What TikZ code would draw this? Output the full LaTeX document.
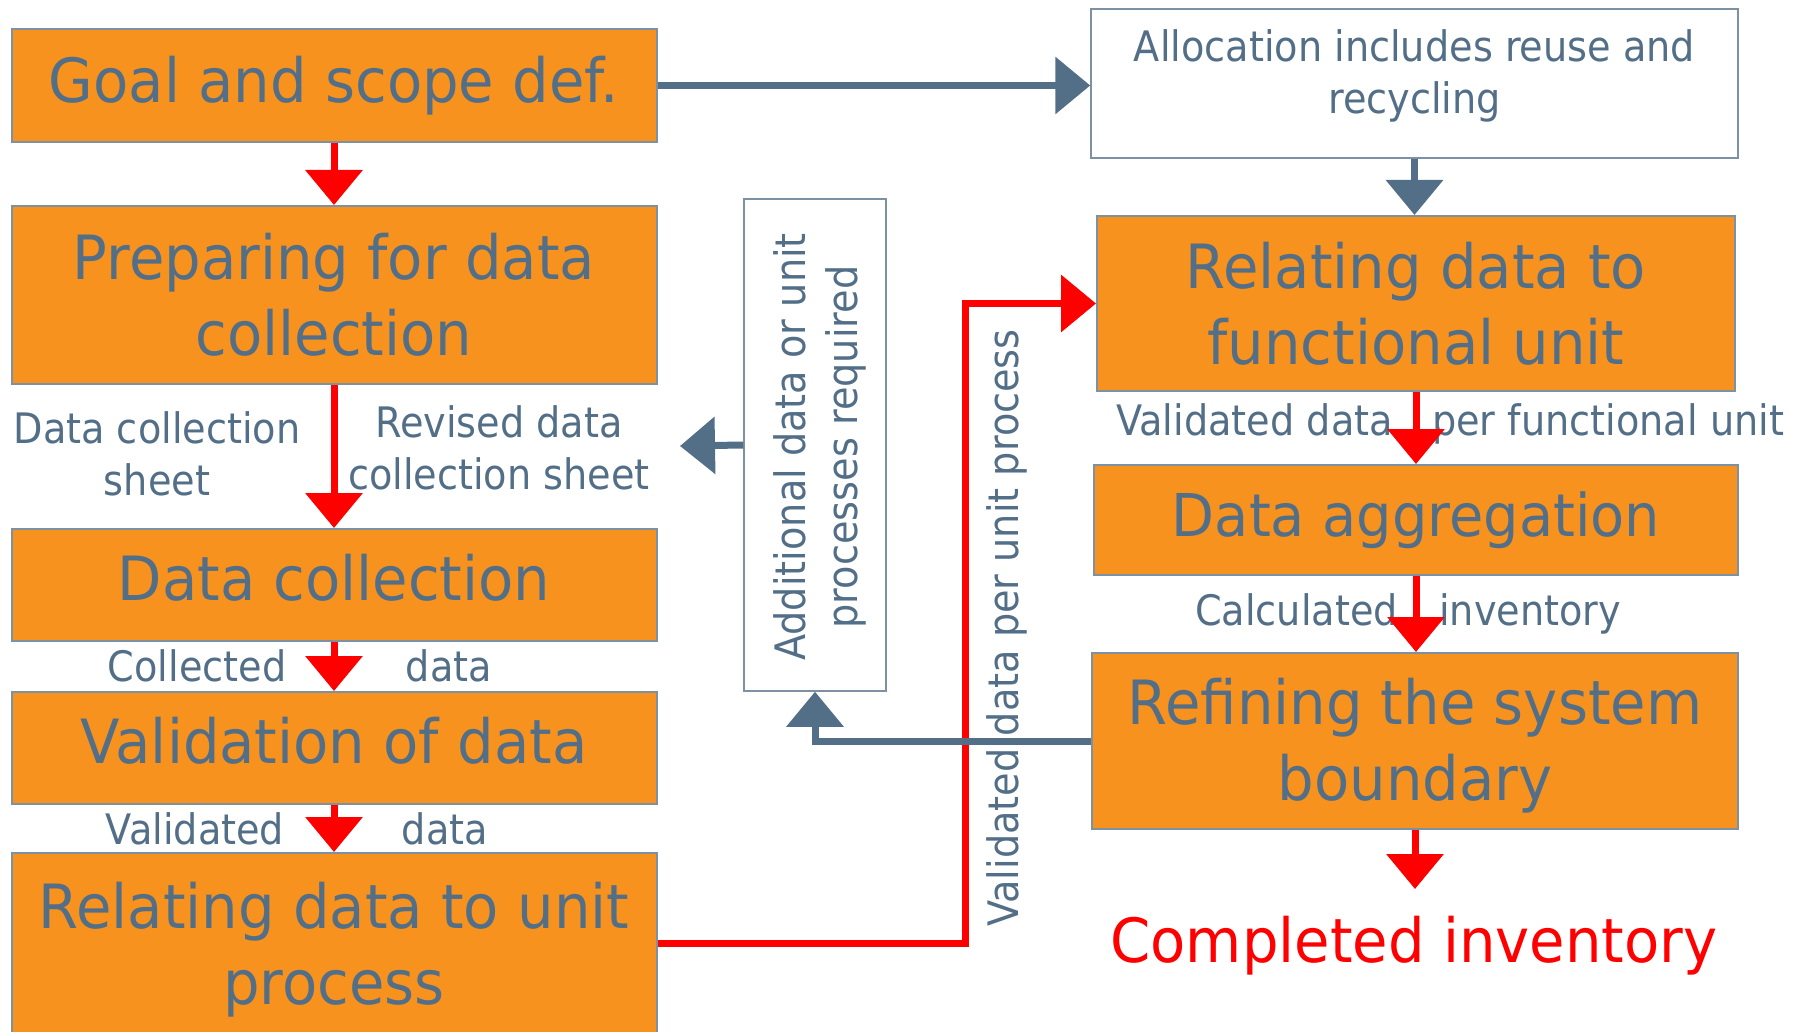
\documentclass[tikz,border=0pt]{standalone}
\usepackage{fontspec}
\setmainfont{DejaVu Sans}[FakeStretch=0.91]
\newfontfamily\stagefont{DejaVu Sans}[FakeStretch=0.945]
\usetikzlibrary{arrows.meta}

\definecolor{slate}{RGB}{83,111,136}
\definecolor{boxorange}{RGB}{247,146,30}
\definecolor{boxedge}{RGB}{125,145,165}
\definecolor{flowred}{RGB}{255,0,0}

\begin{document}
\begin{tikzpicture}[x=1pt,y=-1pt,
  stage/.style={draw=boxedge, line width=2pt, fill=boxorange, text=slate, align=center,
    inner sep=0pt, font=\stagefont\fontsize{61}{76}\selectfont},
  notebox/.style={draw=boxedge, line width=1.5pt, fill=white, text=slate, align=center,
    inner sep=0pt, font=\fontsize{42}{52}\selectfont},
  tag/.style={text=slate, align=center, inner sep=0pt, font=\fontsize{42}{52}\selectfont},
  redflow/.style={draw=flowred, line width=7pt, -{Triangle[length=35pt,width=56pt]}},
  greyflow/.style={draw=slate, line width=7pt, -{Triangle[length=35pt,width=56pt]}}]
  \useasboundingbox (0,0) rectangle (1808,1032);

  % left column
  \node[stage, minimum width=645pt, minimum height=113pt] (goal) at (334,85.5) {Goal and scope def.};
  \node[stage, minimum width=645pt, minimum height=178pt] (prep) at (334,295) {Preparing for data\\collection};
  \node[stage, minimum width=645pt, minimum height=112pt, text depth=15pt] (coll) at (334,585) {Data collection};
  \node[stage, minimum width=645pt, minimum height=112pt, text depth=15pt] (valid) at (334,748) {Validation of data};
  \node[stage, minimum width=645pt, minimum height=180pt, text depth=0pt] (unitp) at (334,943) {Relating data to unit\\process};

  % right column
  \node[notebox, minimum width=647pt, minimum height=149pt, text depth=24pt] (alloc) at (1414.5,83.5) {Allocation includes reuse and\\recycling};
  \node[stage, minimum width=638pt, minimum height=175pt] (relfu) at (1416,303.5) {Relating data to\\functional unit};
  \node[stage, minimum width=644pt, minimum height=110pt, font=\stagefont\fontsize{59}{74}\selectfont] (aggr) at (1416,520) {Data aggregation};
  \node[stage, minimum width=646pt, minimum height=176pt, text depth=3pt] (refine) at (1415,741) {Refining the system\\boundary};
  \node[text=flowred, inner sep=0pt, font=\stagefont\fontsize{61}{76}\selectfont, anchor=base] (done) at (1414,962) {Completed inventory};
  \coordinate (donetip) at (1415,889);

  % feedback box in the middle
  \node[notebox, minimum width=142pt, minimum height=492pt] (addl) at (815,445) {};
  \node[tag, rotate=90] (addltext) at (820,447) {Additional data or unit\\processes required};
  \coordinate (backtip) at (680,446);

  % labels along the arrows
  \node[tag] (sheet) at (157,454) {Data collection\\sheet};
  \node[tag] (revsheet) at (499,448) {Revised data\\collection sheet};
  \node[tag, anchor=base] (colla) at (197,681) {Collected};
  \node[tag, anchor=base] (collb) at (449,681) {data};
  \node[tag, anchor=base] (vala) at (195,844) {Validated};
  \node[tag, anchor=base] (valb) at (445,844) {data};
  \node[tag, anchor=base east] (fua) at (1393,435) {Validated data};
  \node[tag, anchor=base west] (fub) at (1432,435) {per functional unit};
  \node[tag, anchor=base east] (calca) at (1398,625) {Calculated};
  \node[tag, anchor=base west] (calcb) at (1439,625) {inventory};
  \node[tag, rotate=90, anchor=base] (perunit) at (1018,628) {Validated data per unit process};

  \draw[redflow] (goal) -- (prep);
  \draw[redflow] (prep) -- (coll);
  \draw[redflow] (coll) -- (valid);
  \draw[redflow] (valid) -- (unitp);
  \draw[redflow] (unitp.east) -- ++(308,0) |- (relfu.west);
  \draw[redflow] (relfu) -- (relfu.south |- aggr.north);
  \draw[redflow] (aggr) -- (aggr.south |- refine.north);
  \draw[redflow] (refine) -- (donetip);

  \draw[greyflow] (goal.east) -- (goal.east -| alloc.west);
  \draw[greyflow] (alloc.south) -- (alloc.south |- relfu.north);
  \draw[greyflow] (refine.west) -| (addl.south);
  \draw[greyflow] (addl.west) -- (backtip);
\end{tikzpicture}
\end{document}
